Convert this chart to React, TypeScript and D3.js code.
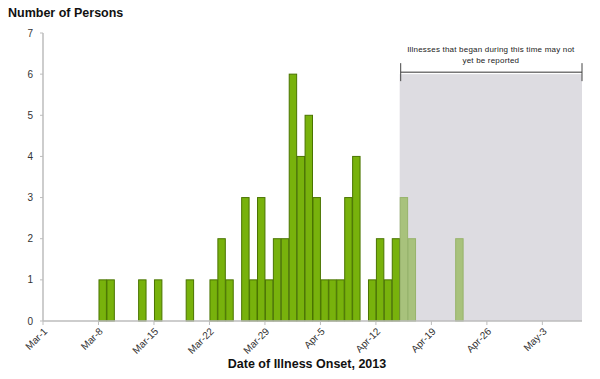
import React from "react";
import * as d3 from "d3";

const reportedDates = [
  "2013-03-08", "2013-03-09", "2013-03-13", "2013-03-15", "2013-03-19",
  "2013-03-22", "2013-03-23", "2013-03-24", "2013-03-26", "2013-03-27",
  "2013-03-28", "2013-03-29", "2013-03-30", "2013-03-31", "2013-04-01",
  "2013-04-02", "2013-04-03", "2013-04-04", "2013-04-05", "2013-04-06",
  "2013-04-07", "2013-04-08", "2013-04-09", "2013-04-11", "2013-04-12",
  "2013-04-13", "2013-04-14",
];
const reportedCounts = [
  1, 1, 1, 1, 1,
  1, 2, 1, 3, 1,
  3, 1, 2, 2, 6,
  4, 5, 3, 1, 1,
  1, 3, 4, 1, 2,
  1, 2,
];
const pendingDates = ["2013-04-15", "2013-04-16", "2013-04-22"];
const pendingCounts = [3, 2, 2];

const tickDates = ["2013-03-01", "2013-03-08", "2013-03-15", "2013-03-22", "2013-03-29", "2013-04-05", "2013-04-12", "2013-04-19", "2013-04-26", "2013-05-03"];
const tickLabels = ["Mar-1", "Mar-8", "Mar-15", "Mar-22", "Mar-29", "Apr-5", "Apr-12", "Apr-19", "Apr-26", "May-3"];
const yTicks = [0, 1, 2, 3, 4, 5, 6, 7];
const domainStart = "2013-03-01";
const domainEnd = "2013-05-08";
const pendingStart = "2013-04-15";
const pendingLevel = 6;
const noteLines = ["Illnesses that began during this time may not", "yet be reported"];

const parse = d3.utcParse("%Y-%m-%d");

export default function App() {
  const W = 600, H = 379;
  const x = d3.scaleUtc().domain([parse(domainStart)!, parse(domainEnd)!]).range([43, 582]);
  const y = d3.scaleLinear().domain([0, 7]).range([321, 33]);
  const font = "Arial, 'Liberation Sans', sans-serif";
  const dayW = (d: Date) => x(d3.utcDay.offset(d, 1)) - x(d);

  const shadeX0 = x(parse(pendingStart)!);
  const shadeX1 = x(parse(domainEnd)!);
  const bracketY = y(pendingLevel) - 2;

  return (
    <svg width={W} height={H} style={{ position: "absolute", left: 0, top: 0 }} fontFamily={font}>
      <rect x={0} y={0} width={W} height={H} fill="#ffffff" />
      {/* shaded region */}
      <rect x={shadeX0} y={y(pendingLevel)} width={shadeX1 - shadeX0} height={y(0) - y(pendingLevel)} fill="#dddce1" />
      {/* bracket */}
      <line x1={shadeX0 + 1} x2={shadeX1} y1={bracketY} y2={bracketY} stroke="#777" strokeWidth={1.5} />
      <line x1={shadeX0 + 1} x2={shadeX0 + 1} y1={bracketY - 9} y2={bracketY + 9} stroke="#444" strokeWidth={1} />
      <line x1={shadeX1} x2={shadeX1} y1={bracketY - 9} y2={bracketY + 9} stroke="#444" strokeWidth={1} />
      {noteLines.map((t, i) => (
        <text key={t} x={(shadeX0 + shadeX1) / 2} y={52 + i * 11} textAnchor="middle" fontSize={8} letterSpacing={0.2} fill="#222">{t}</text>
      ))}
      {/* bars */}
      {reportedDates.map((ds, i) => {
        const d = parse(ds)!;
        return (
          <rect key={ds} x={x(d) + 0.5} y={y(reportedCounts[i])} width={dayW(d) - 0.5} height={y(0) - y(reportedCounts[i])}
            fill="#78b20c" stroke="#4a7400" strokeWidth={1} />
        );
      })}
      {pendingDates.map((ds, i) => {
        const d = parse(ds)!;
        return (
          <rect key={ds} x={x(d) + 0.5} y={y(pendingCounts[i])} width={dayW(d) - 0.5} height={y(0) - y(pendingCounts[i])}
            fill="#a8c27c" stroke="#97b36b" strokeWidth={1} />
        );
      })}
      {/* y axis */}
      <line x1={43} x2={43} y1={y(7)} y2={y(0)} stroke="#bdbdbd" strokeWidth={1.5} />
      {yTicks.map((t) => (
        <g key={t}>
          <line x1={40} x2={43} y1={y(t)} y2={y(t)} stroke="#bdbdbd" />
          <text x={33} y={y(t) + 3.5} textAnchor="end" fontSize={10} fill="#333">{t}</text>
        </g>
      ))}
      {/* x axis */}
      <line x1={43} x2={582} y1={y(0)} y2={y(0)} stroke="#bdbdbd" strokeWidth={1.5} />
      {tickDates.map((ds, i) => {
        const tx = x(parse(ds)!);
        return (
          <g key={ds}>
            <line x1={tx} x2={tx} y1={y(0)} y2={y(0) + 4} stroke="#bdbdbd" />
            <text transform={`translate(${tx + 5},${y(0) + 11}) rotate(-45)`} textAnchor="end" fontSize={10} fill="#333">{tickLabels[i]}</text>
          </g>
        );
      })}
      {/* titles */}
      <text x={8} y={17} fontSize={12.5} fontWeight="bold" fill="#111">Number of Persons</text>
      <text x={307} y={368} textAnchor="middle" fontSize={12.5} fontWeight="bold" fill="#111">Date of Illness Onset, 2013</text>
    </svg>
  );
}
